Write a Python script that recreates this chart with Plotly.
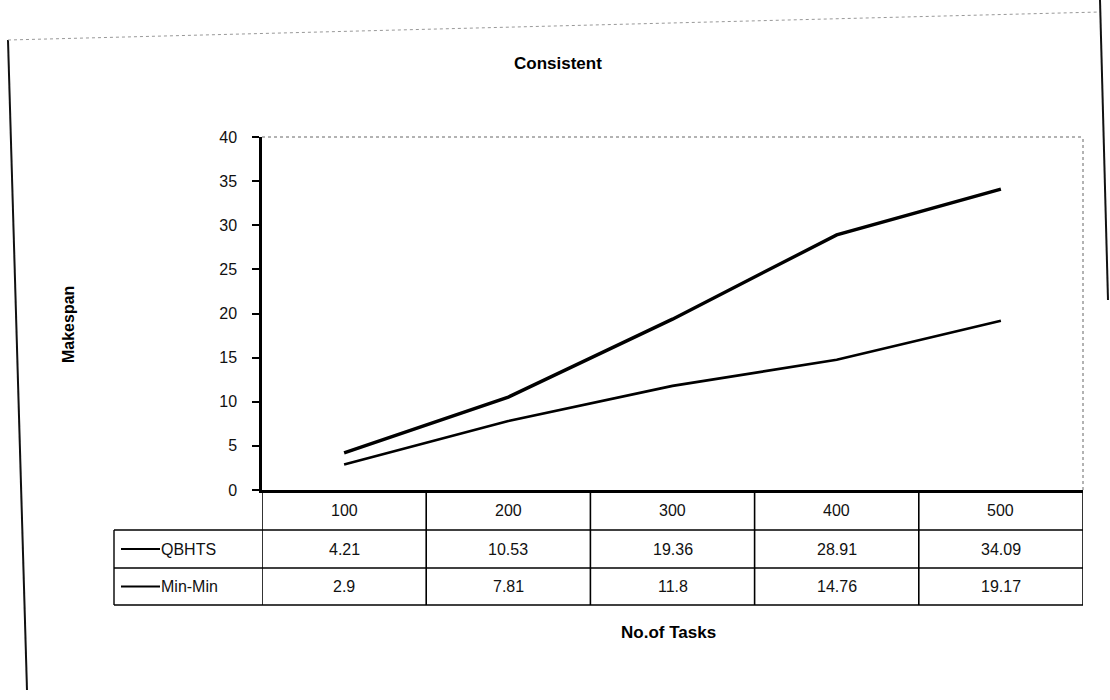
import plotly.graph_objects as go

# Chart data
categories = ["100", "200", "300", "400", "500"]
qbhts = [4.21, 10.53, 19.36, 28.91, 34.09]
minmin = [2.9, 7.81, 11.8, 14.76, 19.17]
series_names = ["QBHTS", "Min-Min"]
y_ticks = [0, 5, 10, 15, 20, 25, 30, 35, 40]

W, H = 1110, 700
L, R, T, B = 262, 1083, 137, 490   # plot area edges in pixels
pw, ph = R - L, B - T


def px(xpix):
    return (xpix - L) / pw


def py(ypix):
    return (B - ypix) / ph


xs = list(range(1, len(categories) + 1))

fig = go.Figure()
fig.add_trace(go.Scatter(x=xs, y=qbhts, mode="lines", name=series_names[0],
                         line=dict(color="#000000", width=3.4), showlegend=False))
fig.add_trace(go.Scatter(x=xs, y=minmin, mode="lines", name=series_names[1],
                         line=dict(color="#000000", width=2.6), showlegend=False))

font_family = "Liberation Sans, Arial, sans-serif"
text_color = "#111111"
shapes = []
annotations = []

# Plot area: dotted top/right edges
shapes.append(dict(type="line", xref="paper", yref="paper", x0=0, x1=1, y0=1, y1=1,
                   line=dict(color="#666666", width=1, dash="dot")))
shapes.append(dict(type="line", xref="paper", yref="paper", x0=1, x1=1, y0=0, y1=1,
                   line=dict(color="#666666", width=1, dash="dot")))

# Data table rows (pixel y of the row boundaries)
row_header_bottom = 530
row_q_bottom = 568
row_m_bottom = 605
table_left = 114

# horizontal lines of the table
shapes.append(dict(type="line", xref="paper", yref="paper", x0=px(table_left), x1=1,
                   y0=py(row_header_bottom), y1=py(row_header_bottom),
                   line=dict(color="#000000", width=1.4)))
for yy in (row_q_bottom, row_m_bottom):
    shapes.append(dict(type="line", xref="paper", yref="paper", x0=px(table_left), x1=1,
                       y0=py(yy), y1=py(yy), line=dict(color="#000000", width=1.4)))
# vertical lines of the table
for i in range(len(categories) + 1):
    shapes.append(dict(type="line", xref="x", yref="paper", x0=i + 0.5, x1=i + 0.5,
                       y0=0, y1=py(row_m_bottom), line=dict(color="#000000", width=1.6)))
shapes.append(dict(type="line", xref="paper", yref="paper", x0=px(table_left), x1=px(table_left),
                   y0=py(row_header_bottom), y1=py(row_m_bottom),
                   line=dict(color="#000000", width=1.4)))

# table text: categories and values
rows = [((B + row_header_bottom) / 2, categories),
        ((row_header_bottom + row_q_bottom) / 2, [f"{v:g}" for v in qbhts]),
        ((row_q_bottom + row_m_bottom) / 2, [f"{v:g}" for v in minmin])]
for ymid, texts in rows:
    for x, t in zip(xs, texts):
        annotations.append(dict(x=x, y=py(ymid), xref="x", yref="paper", text=t,
                                xanchor="center", yanchor="middle", showarrow=False,
                                font=dict(family=font_family, size=16, color=text_color)))

# legend keys inside the table
for ymid, name in zip([(row_header_bottom + row_q_bottom) / 2, (row_q_bottom + row_m_bottom) / 2],
                      series_names):
    shapes.append(dict(type="line", xref="paper", yref="paper", x0=px(121), x1=px(160),
                       y0=py(ymid), y1=py(ymid), line=dict(color="#000000", width=2.2)))
    annotations.append(dict(x=px(159), y=py(ymid), xref="paper", yref="paper", text=name,
                            xanchor="left", yanchor="middle", showarrow=False,
                            font=dict(family=font_family, size=16, color=text_color)))

# outer chart frame
shapes.append(dict(type="line", xref="paper", yref="paper", x0=px(8), x1=px(27),
                   y0=py(40), y1=py(690), line=dict(color="#111111", width=2)))
shapes.append(dict(type="line", xref="paper", yref="paper", x0=px(8), x1=px(1100),
                   y0=py(40), y1=py(12), line=dict(color="#999999", width=1, dash="dot")))
shapes.append(dict(type="line", xref="paper", yref="paper", x0=px(1100), x1=px(1108),
                   y0=py(0), y1=py(300), line=dict(color="#111111", width=2)))

# titles
annotations.append(dict(x=px(558), y=py(63), xref="paper", yref="paper", text="<b>Consistent</b>",
                        xanchor="center", yanchor="middle", showarrow=False,
                        font=dict(family=font_family, size=17, color="#000000")))
annotations.append(dict(x=px(68), y=py(325), xref="paper", yref="paper", text="<b>Makespan</b>",
                        xanchor="center", yanchor="middle", textangle=-90, showarrow=False,
                        font=dict(family=font_family, size=16, color="#000000")))
annotations.append(dict(x=px(668), y=py(632), xref="paper", yref="paper", text="<b>No.of Tasks</b>",
                        xanchor="center", yanchor="middle", showarrow=False,
                        font=dict(family=font_family, size=17, color="#000000")))

fig.update_layout(
    width=W, height=H,
    margin=dict(l=L, r=W - R, t=T, b=H - B),
    paper_bgcolor="white", plot_bgcolor="white",
    shapes=shapes, annotations=annotations,
    xaxis=dict(range=[0.5, len(categories) + 0.5], showticklabels=False, showgrid=False,
               zeroline=False, showline=True, linecolor="#000000", linewidth=2.5, ticks=""),
    yaxis=dict(range=[0, 40], tickvals=y_ticks, showgrid=False, zeroline=False,
               showline=True, linecolor="#000000", linewidth=2.5, ticks="outside",
               ticklen=7, tickwidth=1.5, tickcolor="#000000", ticklabelstandoff=12,
               tickfont=dict(family=font_family, size=16, color=text_color)),
)

fig.write_html("out.html")
